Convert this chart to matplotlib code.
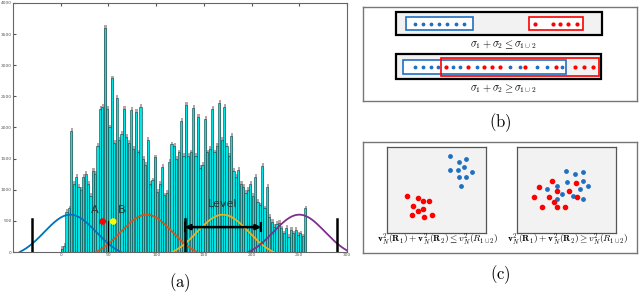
import numpy as np
import matplotlib
matplotlib.use("Agg")
import matplotlib.pyplot as plt
from matplotlib.patches import Rectangle

plt.rcParams['mathtext.fontset'] = 'cm'

# --- (a) histogram data ---
bin_width = 2.5
hist_counts = [50, 100, 650, 700, 1950, 1100, 1200, 1050, 1000, 1200,
               1250, 1100, 900, 1300, 1250, 1700, 2300, 2330, 3600, 2300,
               2000, 2790, 1750, 2480, 1800, 1900, 2300, 1850, 1750, 2280,
               1650, 2250, 1600, 2330, 1500, 1400, 1800, 1100, 1150, 1520,
               960, 1100, 1370, 910, 950, 1450, 1730, 1700, 1500, 1600,
               2100, 1550, 2360, 1550, 1600, 2310, 1550, 2170, 1350, 1400,
               2140, 1600, 1650, 2300, 1600, 1700, 2400, 1800, 2330, 1700,
               1550, 1860, 1300, 1200, 1320, 1100, 1040, 950, 1000, 1090,
               900, 1200, 800, 750, 1380, 700, 1040, 560, 480, 400,
               450, 470, 380, 300, 390, 240, 350, 300, 350, 280,
               300, 250, 700]
bin_left = np.arange(len(hist_counts)) * bin_width

bump_centers = [10, 90, 170, 250]
bump_colors = ['#0072BD', '#D95319', '#EDB120', '#7E2F8E']
bump_peak = 600
bump_sigma = 27
bump_half = 53

level_lines = [-30, 130, 290]     # thick markers
mid_line = 50                      # thin marker
marker_height = 530
points_x = [44, 55]
points_y = [490, 490]
points_c = ['red', 'yellow']

fig = plt.figure(figsize=(6.4, 2.94), dpi=100)

ax = fig.add_axes([13/640, 42/294, 334/640, 249/294])
ax.bar(bin_left + 0.7, np.array(hist_counts) + 45, width=2.3, align='edge',
       color='#b8a4a4', edgecolor='none', zorder=1)
ax.bar(bin_left, hist_counts, width=2.3, align='edge', color='#00e6e6',
       edgecolor='#1a3a3a', linewidth=0.4, zorder=2)

for c, col in zip(bump_centers, bump_colors):
    xs = np.linspace(c - bump_half, c + bump_half, 200)
    g = np.exp(-(xs - c) ** 2 / (2 * bump_sigma ** 2))
    g = (g - g[0]) / (1 - g[0]) * bump_peak
    ax.plot(xs, g, color=col, lw=1.3, zorder=4)

for lx in level_lines:
    ax.plot([lx, lx], [0, marker_height], color='black', lw=1.8, zorder=5)
ax.plot([mid_line, mid_line], [0, marker_height - 30], color='black', lw=0.9, zorder=5)
ax.annotate('', xy=(210, 400), xytext=(130, 400),
            arrowprops=dict(arrowstyle='<|-|>', color='black', lw=1.8,
                            mutation_scale=7, shrinkA=0, shrinkB=0), zorder=6)
ax.plot([210, 210], [330, 470], color='black', lw=1.5, zorder=6)
ax.plot([130, 130], [330, 470], color='black', lw=1.5, zorder=6)
ax.text(170, 770, 'Level', fontsize=8, color='#333333', ha='center', va='center', zorder=7)
ax.text(36, 680, 'A', fontsize=8, color='#333333', ha='center', va='center', zorder=7)
ax.text(64, 680, 'B', fontsize=8, color='#333333', ha='center', va='center', zorder=7)
ax.scatter(points_x, points_y, c=points_c, s=14, zorder=7)

ax.set_xlim(-50, 300)
ax.set_ylim(0, 4000)
ax.set_xticks(range(0, 301, 50))
ax.set_yticks(range(0, 4001, 500))
ax.tick_params(direction='in', length=2.5, labelsize=3.2, colors='#555555',
               top=True, right=False, pad=1)
for sp in ax.spines.values():
    sp.set_color('#666666')
    sp.set_linewidth(0.8)

fig.text(180/640, 1 - 283/294, r'$\mathrm{(a)}$', fontsize=12, ha='center', va='center')

# --- (b) overlap sketch (local coords inside the box) ---
row1_y = 17
row1_blue = [52, 60, 68, 76, 84, 93, 101]
row1_red = [172, 190, 197, 205, 214]
row2_y = 60
row2_blue = [52, 60, 68, 75, 90, 97, 114, 147, 157, 174, 184, 199]
row2_red = [83, 105, 121, 129, 137, 162, 193, 212, 221, 230]
blue = '#1f70c1'

axb = fig.add_axes([363/640, 1 - 101/294, 274/640, 94/294])
axb.set_xlim(0, 274)
axb.set_ylim(94, 0)
axb.set_xticks([])
axb.set_yticks([])
for sp in axb.spines.values():
    sp.set_color('#777777')
    sp.set_linewidth(1.0)

axb.add_patch(Rectangle((33, 5), 206, 23, facecolor='#f2f2f2', edgecolor='black', lw=1.6))
axb.add_patch(Rectangle((43, 10), 67, 13, facecolor='white', edgecolor=blue, lw=1.2))
axb.add_patch(Rectangle((166, 10), 54, 13, facecolor='white', edgecolor='red', lw=1.2))
axb.scatter(row1_blue, [row1_y] * len(row1_blue), s=3, color=blue, zorder=3)
axb.scatter(row1_red, [row1_y] * len(row1_red), s=4, color='red', zorder=3)
axb.text(140, 38, r'$\sigma_1+\sigma_2\leq\sigma_{1\cup2}$', fontsize=7.5,
         ha='center', va='center')

axb.add_patch(Rectangle((33, 47), 205, 25, facecolor='#f2f2f2', edgecolor='black', lw=1.6))
axb.add_patch(Rectangle((40, 53), 163, 14, facecolor='white', edgecolor=blue, lw=1.2))
axb.add_patch(Rectangle((78, 51), 158, 18, facecolor='none', edgecolor='red', lw=1.2))
axb.scatter(row2_blue, [row2_y] * len(row2_blue), s=3, color=blue, zorder=3)
axb.scatter(row2_red, [row2_y] * len(row2_red), s=4, color='red', zorder=3)
axb.text(140, 82, r'$\sigma_1+\sigma_2\geq\sigma_{1\cup2}$', fontsize=7.5,
         ha='center', va='center')

fig.text(500/640, 1 - 123/294, r'$\mathrm{(b)}$', fontsize=12, ha='center', va='center')

# --- (c) cluster sketches ---
left_blue_x = [6.33, 7.24, 8.03, 6.39, 7.18, 7.82, 8.61, 7.24, 8.03, 7.48]
left_blue_y = [8.99, 8.26, 8.60, 7.36, 7.36, 7.67, 7.05, 6.47, 6.47, 5.50]
left_red_x = [2.07, 3.16, 3.67, 4.25, 2.59, 3.67, 3.16, 2.55, 3.74, 4.52]
left_red_y = [4.34, 4.07, 3.68, 3.68, 3.10, 2.79, 2.52, 2.05, 1.86, 2.13]
right_blue_x = [4.90, 5.84, 6.69, 5.07, 6.62, 4.05, 3.04, 7.20, 6.39, 4.59, 5.61, 4.09, 6.62]
right_blue_y = [7.17, 6.90, 7.13, 5.93, 6.01, 5.43, 5.16, 5.43, 5.16, 4.53, 4.26, 3.99, 3.95]
right_red_x = [3.51, 5.95, 2.23, 4.05, 5.30, 1.72, 3.24, 6.08, 3.78, 2.50, 4.05, 4.80]
right_red_y = [6.01, 5.78, 5.35, 4.84, 4.84, 4.22, 4.19, 4.19, 3.60, 3.06, 2.98, 3.02]

axc = fig.add_axes([363/640, 1 - 253/294, 274/640, 111/294])
axc.set_xticks([])
axc.set_yticks([])
for sp in axc.spines.values():
    sp.set_color('#777777')
    sp.set_linewidth(1.0)

for x0, bx, by, rx, ry in [(387, left_blue_x, left_blue_y, left_red_x, left_red_y),
                           (517, right_blue_x, right_blue_y, right_red_x, right_red_y)]:
    a = fig.add_axes([x0/640, 1 - 233/294, 99/640, 86/294])
    a.set_facecolor('#f2f2f2')
    a.set_xlim(0, 10)
    a.set_ylim(0, 10)
    a.set_xticks([])
    a.set_yticks([])
    for sp in a.spines.values():
        sp.set_color('#555555')
        sp.set_linewidth(0.9)
    a.scatter(bx, by, s=6, color=blue)
    a.scatter(rx, ry, s=9, color='red')

fig.text(438/640, 1 - 239/294,
         r'$\mathbf{v}_N^2(\mathbf{R}_1)+\mathbf{v}_N^2(\mathbf{R}_2)\leq v_N^2(R_{1\cup2})$',
         fontsize=6.8, ha='center', va='center')
fig.text(568/640, 1 - 239/294,
         r'$\mathbf{v}_N^2(\mathbf{R}_1)+\mathbf{v}_N^2(\mathbf{R}_2)\geq v_N^2(R_{1\cup2})$',
         fontsize=6.8, ha='center', va='center')

fig.text(500/640, 1 - 275/294, r'$\mathrm{(c)}$', fontsize=12, ha='center', va='center')

fig.savefig('out.png', dpi=100)
